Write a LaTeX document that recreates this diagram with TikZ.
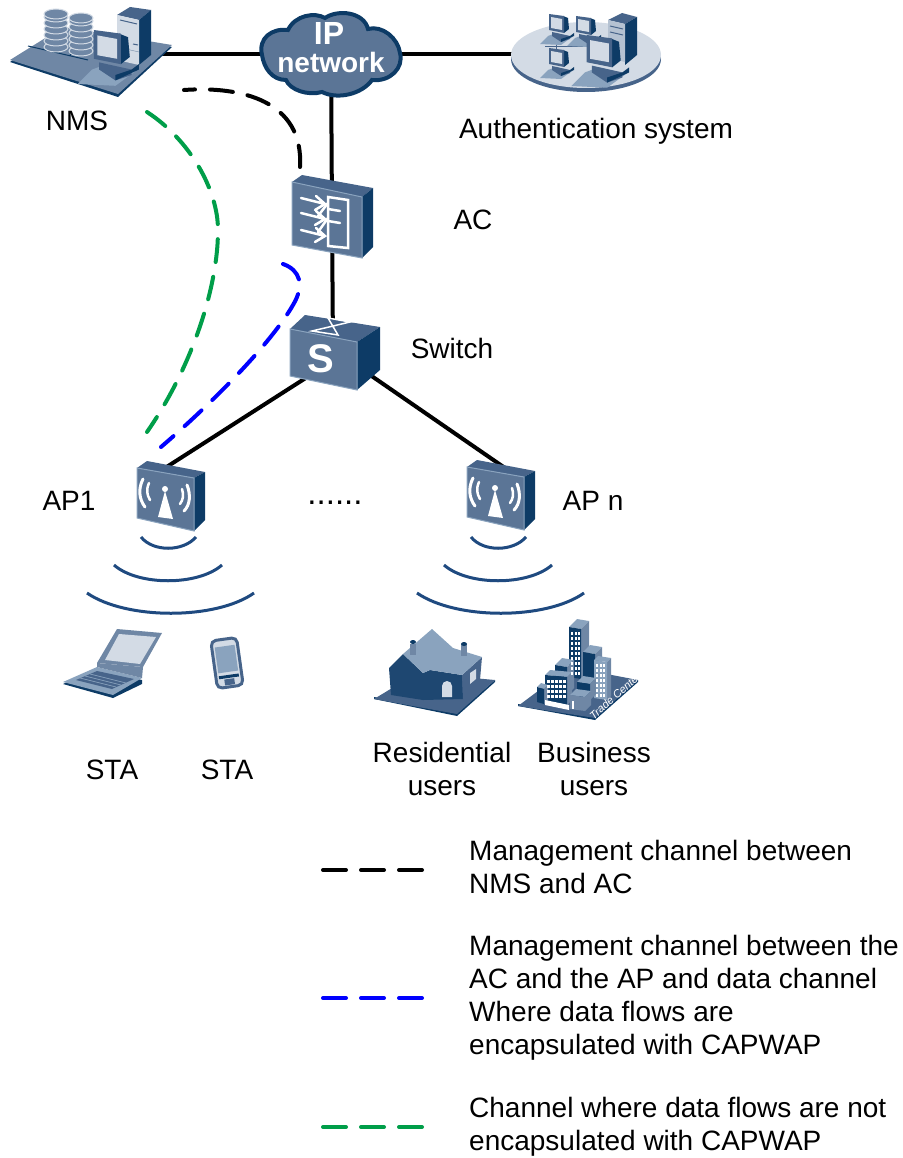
\documentclass[tikz,border=0pt]{standalone}
\usepackage{fontspec}
\setmainfont{Liberation Sans}
\definecolor{nwfront}{RGB}{91,117,150}
\definecolor{nwtop}{RGB}{71,100,138}
\definecolor{nwside}{RGB}{13,59,102}
\definecolor{nwedge}{RGB}{138,163,190}
\definecolor{nwlight}{RGB}{211,219,229}
\definecolor{nwplate}{RGB}{111,135,165}
\definecolor{nwwave}{RGB}{31,74,128}
\definecolor{chgreen}{RGB}{0,158,73}
\tikzset{
  txt/.style={font=\fontsize{28}{33}\selectfont,align=left,inner sep=0pt},
  linkline/.style={line width=4pt},
  chanline/.style={line width=4pt,line cap=round,dash pattern=on 23pt off 15pt},
  waveline/.style={line width=3pt,color=nwwave},
  glyph/.style={draw=white,line width=2.5pt,line cap=round},
  pics/pcset/.style={code={
    \fill[nwedge] (-10,12) -- (-2,9) -- (14,13) -- (3,21) -- (-18,20) -- cycle;
    \fill[nwtop] (-6,8) -- (12,12) -- (12,15) -- (3,18) -- (-6,12) -- cycle;
    \fill[nwside] (12,12) -- (16,9) -- (16,12) -- (3,18) -- (3,15) -- cycle;
    \fill[nwside] (5,-8) -- (10,-6) -- (11,5) -- (6,9) -- cycle;
    \fill[nwtop] (-9,-10) -- (6,-8) -- (6,9) -- (-9,6) -- cycle;
    \fill[nwlight] (-7,-7) -- (4,-5) -- (4,6) -- (-7,4) -- cycle;
  }},
  pics/apbox/.style={code={
    \fill[nwtop] (0,7) -- (10,0) -- (68,11) -- (57,17) -- cycle;
    \fill[nwside] (57,17) -- (68,11) -- (68,59) -- (57,70) -- cycle;
    \filldraw[fill=nwfront,draw=nwedge,line width=1pt] (0,7) -- (57,17) -- (57,70) -- (0,57) -- cycle;
    \fill[white] (28,30) -- (21,56) -- (36,58) -- cycle;
    \fill[white] (28,28) circle (3);
    \draw[glyph,line width=3pt] (6,18) .. controls (1,28) and (2,38) .. (8,46);
    \draw[glyph] (12,22) .. controls (9,29) and (10,34) .. (13,39);
    \draw[glyph,line width=3pt] (50,24) .. controls (54,34) and (53,44) .. (47,50);
    \draw[glyph] (45,28) .. controls (47,34) and (46,39) .. (43,43);
  }},
}
\newcommand{\tradebox}[6][nwside]{%
  \fill[nwedge] (#2,#3) -- ++(#6,-#6) -- ++(#4,2) -- ++(-#6,#6) -- cycle;
  \fill[nwplate] (#2+#4,#3+2) -- ++(#6,-#6) -- ++(0,#5) -- ++(-#6,#6) -- cycle;
  \fill[#1] (#2,#3) -- ++(#4,2) -- ++(0,#5) -- ++(-#4,-2) -- cycle;
}
\begin{document}
\begin{tikzpicture}[x=1pt,y=-1pt]
    \useasboundingbox (0,0) rectangle (902,1158);
    % ends of the links
    \coordinate (nms) at (120,54);
    \coordinate (cloud) at (331,54);
    \coordinate (auth) at (540,54);
    \coordinate (ac) at (332,215);
    \coordinate (switch) at (333,350);
    \coordinate (switchl) at (312,374);
    \coordinate (switchr) at (360,368);
    \coordinate (ap1) at (165,468);
    \coordinate (apn) at (505,468);
    \draw[linkline] (nms) -- (cloud);
    \draw[linkline] (cloud) -- (auth);
    \draw[linkline] (cloud) -- (ac);
    \draw[linkline] (ac) -- (switch);
    \draw[linkline] (switchl) -- (ap1);
    \draw[linkline] (switchr) -- (apn);
    % NMS
    \fill[nwside] (10,62) -- (63,29) -- (172,47) -- (118,97) -- cycle;
    \fill[nwplate] (10,60) -- (63,27) -- (172,45) -- (118,94) -- cycle;
    \draw[nwside,line width=1pt] (28,46) -- (88,60) (45,50) -- (55,42) (70,55) -- (82,47);
    \foreach \sx/\sy in {56/14,81/18} {
      \foreach \dy in {33,27,21,15,9,3,0} {
        \filldraw[fill=nwplate,draw=nwlight,line width=1pt] (\sx,\sy+\dy) ellipse (12 and 5);
      }
    }
    \fill[nwtop] (117,15) -- (130,7) -- (151,10) -- (139,20) -- cycle;
    \fill[nwside] (139,20) -- (151,10) -- (151,55) -- (139,65) -- cycle;
    \fill[nwlight] (117,15) -- (139,20) -- (139,65) -- (117,60) -- cycle;
    \draw[nwtop,line width=1pt] (120,20) -- (137,24) (133,44) -- (138,45);
    \draw[nwplate] (117,47) -- (139,52);
    \pic (nmspc) at (110,48) [scale=1.8] {pcset};
    % cloud
    \filldraw[fill=nwfront,draw=nwside,line width=4pt] (262,55)
      .. controls (258,38) and (272,28) .. (288,30)
      .. controls (295,15) and (315,12) .. (325,18)
      .. controls (338,9) and (364,12) .. (368,29)
      .. controls (382,25) and (398,38) .. (400,53)
      .. controls (404,68) and (390,82) .. (372,80)
      .. controls (362,94) and (338,100) .. (322,92)
      .. controls (308,96) and (290,90) .. (286,80)
      .. controls (272,80) and (264,68) .. (262,55) -- cycle;
    \node[font=\fontsize{32}{32}\selectfont\bfseries,text=white,inner sep=0pt] (cloudip) at (329,33) {IP};
    \node[font=\fontsize{28}{28}\selectfont\bfseries,text=white,inner sep=0pt] (cloudnet) at (331,62) {network};
    % authentication system
    \fill[nwtop] (586,59) ellipse (75 and 33);
    \fill[nwlight] (586,55) ellipse (75 and 33);
    \draw[nwtop,line width=1pt] (545,47) -- (592,47) (556,40) -- (556,54) (582,40) -- (582,47);
    \fill[nwtop] (608,20) -- (622,13) -- (637,17) -- (625,24) -- cycle;
    \fill[nwside] (625,24) -- (637,17) -- (637,55) -- (625,65) -- cycle;
    \fill[nwlight!70!nwplate] (608,20) -- (625,24) -- (625,62) -- (608,58) -- cycle;
    \draw[nwtop,line width=1pt] (610,26) -- (623,29) (610,32) -- (623,35);
    \pic (authpc1) at (558,24) {pcset};
    \pic (authpc2) at (585,26) {pcset};
    \pic (authpc3) at (558,58) {pcset};
    \pic (authpc4) at (602,52) [scale=1.7] {pcset};
    % AC
    \fill[nwtop] (292,182) -- (302,175) -- (373,188) -- (362,197) -- cycle;
    \fill[nwside] (362,197) -- (373,188) -- (373,247) -- (362,258) -- cycle;
    \filldraw[fill=nwfront,draw=nwedge,line width=1pt] (292,182) -- (362,197) -- (362,258) -- (292,245) -- cycle;
    \draw[glyph] (328,197) -- (348,200) -- (348,248) -- (328,246) -- cycle;
    \draw[glyph] (328,209) -- (340,211) (328,221) -- (340,223);
    \foreach \ay in {198,213,230} {
      \draw[glyph] (301,\ay) -- (325,\ay+6) (316,\ay-2) -- (325,\ay+6) -- (315,\ay+12);
    }
    \draw[glyph] (328,203) -- (318,216) (328,218) -- (318,232);
    % switch
    \fill[nwtop] (290,329) -- (305,315) -- (380,327) -- (357,342) -- cycle;
    \fill[nwside] (357,342) -- (380,327) -- (380,370) -- (357,390) -- cycle;
    \filldraw[fill=nwfront,draw=nwedge,line width=1pt] (290,329) -- (357,342) -- (357,390) -- (290,376) -- cycle;
    \draw[glyph,line width=1.5pt] (328,318) -- (350,322) -- (312,331) -- (338,335) -- cycle;
    \node[font=\fontsize{40}{40}\selectfont\bfseries,text=white,inner sep=0pt] (switchs) at (321,359) {S};
    % APs and their waves
    \pic (ap1box) at (137,461) {apbox};
    \pic (apnbox) at (467,460) {apbox};
    \foreach \wx in {168,498} {
      \draw[waveline] (\wx-27,537) .. controls (\wx-15,552) and (\wx+15,552) .. (\wx+28,537);
      \draw[waveline] (\wx-54,565) .. controls (\wx-30,586) and (\wx+30,586) .. (\wx+54,565);
      \draw[waveline] (\wx-81,593) .. controls (\wx-42,620) and (\wx+48,620) .. (\wx+86,593);
    }
    % laptop
    \fill[nwside] (63,684) -- (97,669) -- (142,680) -- (142,684) -- (113,698) -- cycle;
    \fill[nwedge] (63,682) -- (97,667) -- (142,678) -- (113,695) -- cycle;
    \fill[nwtop] (76,680) -- (97,671) -- (134,679) -- (112,689) -- cycle;
    \draw[nwedge,line width=.7pt] (80,678) -- (116,687) (85,676) -- (121,685) (90,674) -- (126,683);
    \fill[nwplate] (97,663) -- (143,667) -- (142,678) -- (97,667) -- cycle;
    \fill[nwplate] (117,629) -- (162,633) -- (143,667) -- (97,663) -- cycle;
    \fill[nwlight] (119,634) -- (156,637) -- (140,664) -- (105,660) -- cycle;
    % phone
    \begin{scope}[shift={(227,663)},rotate=8]
      \filldraw[fill=nwlight,draw=nwtop,line width=3pt,rounded corners=5pt] (-13,-24) rectangle (13,24);
      \fill[nwedge] (-10,-17) rectangle (10,9);
      \fill[nwside] (-10,12) rectangle (10,15);
      \fill[nwtop] (-5,16) rectangle (5,22);
    \end{scope}
    % house
    \fill[nwside] (374,699) -- (457,716) -- (495,682) -- (495,680) -- (457,713) -- (374,697) -- cycle;
    \fill[nwtop] (374,699) -- (417,673) -- (495,680) -- (457,714) -- cycle;
    \fill[nwside!70!nwtop] (389,668) -- (403,654) -- (423,673) -- (423,700) -- (391,695) -- cycle;
    \fill[nwside!70!nwtop] (423,673) -- (430,670) -- (462,675) -- (463,699) -- (423,700) -- cycle;
    \fill[nwtop] (462,675) -- (482,657) -- (480,680) -- (463,699) -- cycle;
    \fill[nwedge] (403,654) -- (432,629) -- (453,648) -- (482,657) -- (462,675) -- (430,670) -- (423,673) -- cycle;
    \fill[nwplate] (410,644) rectangle (416,655);
    \fill[nwplate] (461,644) rectangle (467,656);
    \fill[nwside] (413,642) ellipse (3 and 2) (464,644) ellipse (3 and 2);
    \fill[nwlight] (442,697) -- (442,686) arc (180:360:5) -- (452,697) -- cycle;
    \fill[nwlight] (470,673) -- (476,669) -- (476,679) -- (470,684) -- cycle;
    % business block
    \fill[nwside] (518,706) -- (595,720) -- (638,682) -- (638,680) -- (595,717) -- (518,704) -- cycle;
    \fill[nwtop] (518,706) -- (570,667) -- (638,680) -- (595,718) -- cycle;
    \tradebox{569}{627}{12}{50}{8}
    \tradebox{583}{652}{12}{32}{7}
    \tradebox[nwedge]{594}{660}{13}{38}{4}
    \tradebox{555}{665}{12}{28}{7}
    \tradebox{545}{675}{22}{28}{5}
    \tradebox{537}{687}{7}{15}{4}
    \tradebox{577}{682}{13}{16}{6}
    \tradebox[nwplate]{570}{695}{15}{14}{6}
    \foreach \wx in {571,574.5,578} {
      \foreach \wy in {632,637,...,672} {
        \fill[white] (\wx,\wy) rectangle ++(2,3);
      }
    }
    \foreach \wx in {547,551,555,559,563} {
      \foreach \wy in {680,685,690,695} {
        \fill[white] (\wx,\wy) rectangle ++(2.5,3);
      }
    }
    \foreach \wx in {596,599.5,603} {
      \foreach \wy in {664,669,...,694} {
        \fill[white] (\wx,\wy) rectangle ++(2,3);
      }
    }
    \fill[white] (545,700) -- (569,705) -- (569,710) -- (545,705) -- cycle;
    \fill[white] (572,701) -- (574,701) -- (574,709) -- (572,709) -- cycle;
    \node[font=\fontsize{11}{11}\selectfont\itshape,text=white,inner sep=0pt,rotate=42] (tradetext) at (615,696) {Trade Center};
    % channels
    \coordinate (blacka) at (184,90);
    \coordinate (blackb) at (300,167);
    \coordinate (bluea) at (283,264);
    \coordinate (blueb) at (293,305);
    \coordinate (bluec) at (161,447);
    \coordinate (greena) at (147,112);
    \coordinate (greenb) at (218,230);
    \coordinate (greenc) at (147,432);
    \draw[chanline,dash phase=12pt] (blacka) .. controls (240,86) and (304,100) .. (blackb);
    \draw[chanline,blue] (bluea) .. controls (300,270) and (305,285) .. (blueb) .. controls (270,345) and (210,405) .. (bluec);
    \draw[chanline,chgreen] (greena) .. controls (190,140) and (218,190) .. (greenb) .. controls (218,290) and (190,370) .. (greenc);
    % labels
    \node[txt] (nmslabel) at (77,121) {NMS};
    \node[txt] (authlabel) at (596,131) {Authentication system};
    \node[txt] (aclabel) at (473,220) {AC};
    \node[txt] (switchlabel) at (452,348) {Switch};
    \node[txt] (ap1label) at (69,501) {AP1};
    \node[txt,font=\fontsize{33}{33}\selectfont] (dotslabel) at (335,503) {......};
    \node[txt] (apnlabel) at (593,501) {AP n};
    \node[txt] (sta1label) at (112,770) {STA};
    \node[txt] (sta2label) at (227,770) {STA};
    \node[txt,align=center] (reslabel) at (442,769) {Residential\\users};
    \node[txt,align=center] (buslabel) at (594,769) {Business\\users};
    % legend
    \coordinate (lega) at (323,870);
    \coordinate (legb) at (423,870);
    \coordinate (legc) at (323,998);
    \coordinate (legd) at (423,998);
    \coordinate (lege) at (323,1127);
    \coordinate (legf) at (423,1127);
    \draw[chanline] (lega) -- (legb);
    \draw[chanline,blue] (legc) -- (legd);
    \draw[chanline,chgreen] (lege) -- (legf);
    \node[txt,anchor=west] (legtxta) at (469,867) {Management channel between\\NMS and AC};
    \node[txt,anchor=west] (legtxtb) at (469,998) {Management channel between the\\AC and the AP and data channel\\Where data flows are\\encapsulated with CAPWAP};
    \node[txt,anchor=west] (legtxtc) at (469,1127) {Channel where data flows are not\\encapsulated with CAPWAP};
\end{tikzpicture}
\end{document}
